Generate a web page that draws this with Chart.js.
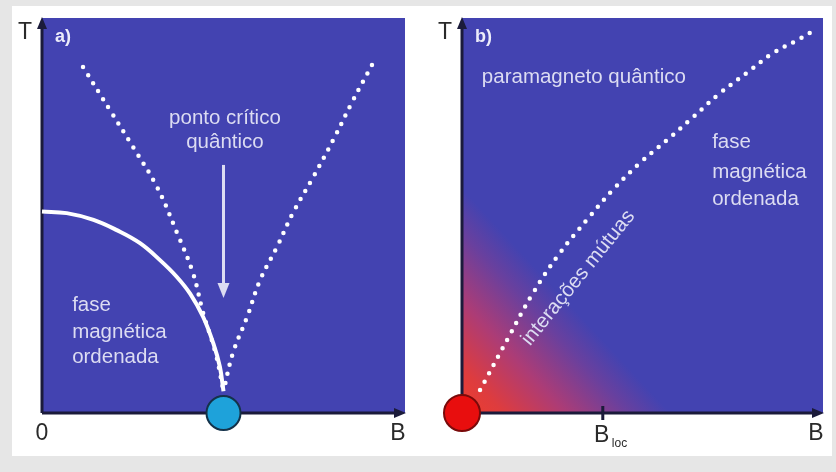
<!DOCTYPE html>
<html>
<head>
<meta charset="utf-8">
<script src="https://cdn.jsdelivr.net/npm/chart.js@4.4.1/dist/chart.umd.min.js"></script>
<style>
  html, body { margin: 0; padding: 0; background: #e6e6e6; }
  #wrap { position: relative; width: 836px; height: 472px; overflow: hidden; }
  #sheet { position: absolute; left: 12px; top: 6px; width: 820px; height: 450px; background: #fff; }
  canvas { position: absolute; top: 0; }
  #chartA { left: 0; }
  #chartB { left: 418px; }
</style>
</head>
<body>
<div id="wrap">
  <div id="sheet"></div>
  <canvas id="chartA" width="418" height="472"></canvas>
  <canvas id="chartB" width="418" height="472"></canvas>
</div>
<script>
// ---- panel a) : field B vs temperature T (arbitrary units 0..10)
var bCritical = 5.0
var orderLineB = [0, 0.68, 1.42, 2.06, 2.70, 3.25, 3.71, 4.08, 4.44, 4.72, 4.90, 5.0]
var orderLineT = [5.10, 5.06, 4.89, 4.63, 4.30, 3.87, 3.45, 3.02, 2.43, 1.76, 1.17, 0.55]
var crossLeftB = [1.13, 1.87, 2.51, 3.17, 3.72, 4.16, 4.44, 4.78, 5.0]
var crossLeftT = [8.76, 7.67, 6.73, 5.72, 4.56, 3.54, 2.53, 1.52, 0.55]
var crossRightB = [9.09, 8.57, 8.02, 7.47, 6.91, 6.47, 6.01, 5.65, 5.26, 5.0]
var crossRightT = [8.81, 7.92, 6.91, 5.97, 5.06, 4.20, 3.37, 2.43, 1.52, 0.55]
var arrowB = [5.0, 5.0]
var arrowT = [6.28, 2.91]

// ---- panel b)
var crossoverB = [0.50, 1.25, 1.97, 2.71, 3.46, 4.18, 4.93, 5.68, 6.40, 7.15, 7.89, 8.61, 9.25, 9.78]
var crossoverT = [0.58, 1.85, 3.04, 4.05, 4.89, 5.65, 6.33, 6.91, 7.49, 8.10, 8.61, 9.11, 9.42, 9.70]
var bLoc = 3.9

var xTickLabelsA = ['0', 'B']
var xTickLabelsB = ['', 'B']

function pts(xs, ys) {
  return xs.map(function (v, i) { return { x: v, y: ys[i] } })
}

var blue = '#4343b1'
var inkColor = '#dcdcf2'
var axisColor = '#1b1b3a'
var font = '"Liberation Sans", Arial, sans-serif'

function arrowHead(ctx, x, y, dir) {
  // dir: 'right' or 'up' or 'down'
  ctx.beginPath()
  if (dir == 'right') {
    ctx.moveTo(x, y); ctx.lineTo(x - 12, y - 5); ctx.lineTo(x - 12, y + 5)
  } else if (dir == 'up') {
    ctx.moveTo(x, y); ctx.lineTo(x - 5, y + 12); ctx.lineTo(x + 5, y + 12)
  } else {
    ctx.moveTo(x, y); ctx.lineTo(x - 6, y - 15); ctx.lineTo(x + 6, y - 15)
  }
  ctx.closePath()
  ctx.fill()
}

var phasePlugin = {
  id: 'phase',
  beforeDatasetsDraw: function (chart, args, opts) {
    var ctx = chart.ctx, a = chart.chartArea
    var x = chart.scales.x, y = chart.scales.y
    var x0 = x.getPixelForValue(0), y0 = y.getPixelForValue(0)
    ctx.save()
    ctx.fillStyle = blue
    ctx.fillRect(a.left, a.top, a.right - a.left, a.bottom - a.top)
    if (opts.glow) {
      // reddish glow in the corner, fading along the diagonal
      var g = ctx.createLinearGradient(x0, y0, x0 + 112, y0 - 104)
      g.addColorStop(0, 'rgb(238,62,46)')
      g.addColorStop(0.2, 'rgb(222,60,62)')
      g.addColorStop(0.5, 'rgb(172,60,118)')
      g.addColorStop(0.8, 'rgb(105,64,158)')
      g.addColorStop(1, blue)
      ctx.fillStyle = g
      ctx.fillRect(a.left, a.top, a.right - a.left, a.bottom - a.top)
    }
    // axes with arrows
    ctx.strokeStyle = axisColor
    ctx.fillStyle = axisColor
    ctx.lineWidth = 3
    ctx.beginPath()
    ctx.moveTo(x0, y0); ctx.lineTo(a.right - 8, y0)
    ctx.moveTo(x0, y0); ctx.lineTo(x0, a.top + 8)
    ctx.stroke()
    arrowHead(ctx, a.right + 1, y0, 'right')
    arrowHead(ctx, x0, a.top - 1, 'up')
    if (opts.tick != null) {
      var tx = x.getPixelForValue(opts.tick)
      ctx.beginPath(); ctx.moveTo(tx, y0 - 7); ctx.lineTo(tx, y0 + 7); ctx.stroke()
    }
    // axis labels
    ctx.fillStyle = '#2a2a2a'
    ctx.font = '23px ' + font
    ctx.textAlign = 'center'
    ctx.textBaseline = 'middle'
    ctx.fillText('T', x0 - 17, a.top + 15)
    if (opts.xLabels[0]) ctx.fillText(opts.xLabels[0], x0, y0 + 21)
    ctx.fillText(opts.xLabels[1], x.getPixelForValue(10) - 7, y0 + 21)
    if (opts.tick != null) {
      var bx = x.getPixelForValue(opts.tick)
      ctx.fillText('B', bx - 1, y0 + 23)
      ctx.font = '12px ' + font
      ctx.textAlign = 'left'
      ctx.fillText('loc', bx + 9, y0 + 31)
    }
    ctx.restore()
  },
  afterDatasetsDraw: function (chart, args, opts) {
    var ctx = chart.ctx, a = chart.chartArea
    var x = chart.scales.x, y = chart.scales.y
    ctx.save()
    ctx.fillStyle = '#ececfa'
    ctx.font = 'bold 18px ' + font
    ctx.textAlign = 'left'
    ctx.textBaseline = 'middle'
    ctx.fillText(opts.tag, a.left + 13, a.top + 19)
    ctx.fillStyle = inkColor
    ctx.font = '20.5px ' + font
    opts.notes.forEach(function (n) {
      var px = x.getPixelForValue(n.b), py = y.getPixelForValue(n.t)
      ctx.save()
      ctx.translate(px, py)
      if (n.rot) ctx.rotate(n.rot * Math.PI / 180)
      ctx.textAlign = n.align
      ctx.fillText(n.text, 0, 0)
      ctx.restore()
    })
    if (opts.arrow) {
      var ax = x.getPixelForValue(arrowB[0])
      var ay1 = y.getPixelForValue(arrowT[0]), ay2 = y.getPixelForValue(arrowT[1])
      ctx.strokeStyle = inkColor
      ctx.fillStyle = inkColor
      ctx.lineWidth = 3
      ctx.beginPath(); ctx.moveTo(ax, ay1); ctx.lineTo(ax, ay2 - 12); ctx.stroke()
      arrowHead(ctx, ax, ay2, 'down')
    }
    ctx.restore()
  }
}

function dotted(data) {
  return {
    data: data, showLine: true, borderColor: '#ffffff', borderWidth: 4.5,
    borderDash: [0, 9.5], borderCapStyle: 'round', pointRadius: 0,
    tension: 0.4, clip: false
  }
}

function baseOptions(pluginOpts, padLeft) {
  return {
    responsive: false,
    animation: false,
    layout: { autoPadding: false, padding: { left: padLeft, right: 13, top: 18, bottom: 59 } },
    scales: {
      x: { type: 'linear', min: 0, max: 10, display: false },
      y: { type: 'linear', min: 0, max: 10, display: false }
    },
    plugins: { legend: { display: false }, tooltip: { enabled: false }, phase: pluginOpts }
  }
}

new Chart(document.getElementById('chartA'), {
  type: 'scatter',
  data: {
    datasets: [
      dotted(pts(crossLeftB, crossLeftT)),
      dotted(pts(crossRightB, crossRightT)),
      {
        data: pts(orderLineB, orderLineT), showLine: true, borderColor: '#ffffff',
        borderWidth: 4, pointRadius: 0, tension: 0.4, clip: false
      },
      {
        data: [{ x: bCritical, y: 0 }], pointRadius: 17, backgroundColor: '#1ea2da',
        borderColor: '#14324a', borderWidth: 2, clip: false
      }
    ]
  },
  options: baseOptions({
    tag: 'a)', xLabels: xTickLabelsA, arrow: true, tick: null, glow: false,
    notes: [
      { text: 'ponto crítico', b: 5.04, t: 7.47, align: 'center' },
      { text: 'quântico', b: 5.04, t: 6.84, align: 'center' },
      { text: 'fase', b: 0.83, t: 2.73, align: 'left' },
      { text: 'magnética', b: 0.83, t: 2.05, align: 'left' },
      { text: 'ordenada', b: 0.83, t: 1.42, align: 'left' }
    ]
  }, 42),
  plugins: [phasePlugin]
})

new Chart(document.getElementById('chartB'), {
  type: 'scatter',
  data: {
    datasets: [
      dotted(pts(crossoverB, crossoverT)),
      {
        data: [{ x: 0, y: 0 }], pointRadius: 18, backgroundColor: '#e80e0e',
        borderColor: '#7a0a0a', borderWidth: 2, clip: false
      }
    ]
  },
  options: baseOptions({
    tag: 'b)', xLabels: xTickLabelsB, arrow: false, tick: bLoc, glow: true,
    notes: [
      { text: 'paramagneto quântico', b: 0.55, t: 8.5, align: 'left' },
      { text: 'fase', b: 6.93, t: 6.84, align: 'left' },
      { text: 'magnética', b: 6.93, t: 6.1, align: 'left' },
      { text: 'ordenada', b: 6.93, t: 5.41, align: 'left' },
      { text: 'interações mútuas', b: 3.22, t: 3.42, align: 'center', rot: -51 }
    ]
  }, 44),
  plugins: [phasePlugin]
})
</script>
</body>
</html>
